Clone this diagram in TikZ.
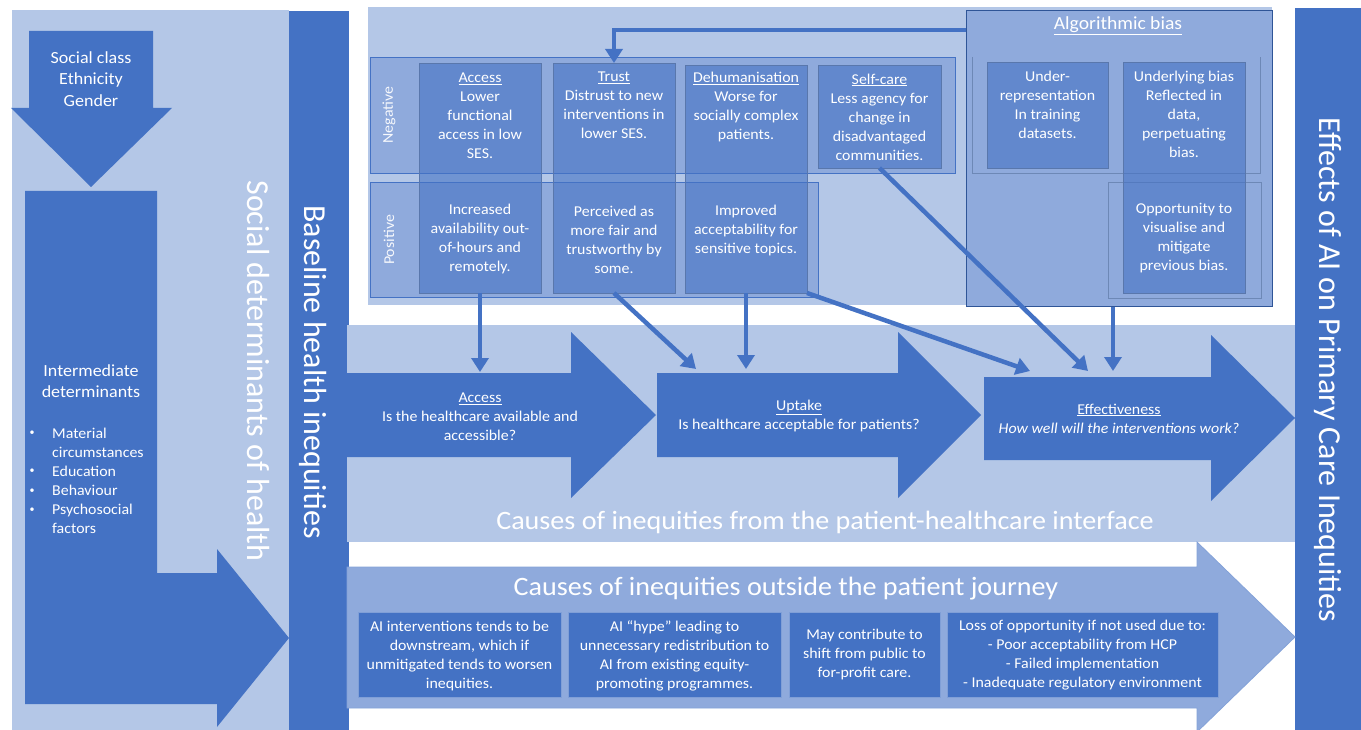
\documentclass[tikz,border=0pt]{standalone}
\usepackage{fontspec}
\setmainfont{Carlito}
\newfontfamily\widefont[FakeStretch=1.06]{Carlito}
\usetikzlibrary{arrows.meta,calc}
\definecolor{lightb}{HTML}{B4C7E7}
\definecolor{medb}{HTML}{8FAADC}
\definecolor{darkb}{HTML}{4472C4}
\definecolor{edgeb}{HTML}{2F5597}
\newcommand{\rectnode}[6]{\node[#2, inner sep=0pt, outer sep=0pt, minimum width={(#5)-(#3)}, minimum height={(#6)-(#4)}, anchor=north west] (#1) at (#3,#4) {};}
\tikzset{
  conn/.style={draw=darkb, line width=4.5pt, -{Triangle[length=14pt,width=17pt]}},
  txt/.style={text=white, align=center, inner sep=0pt, font=\widefont\fontsize{15}{19}\selectfont},
  midtxt/.style={text=white, align=center, inner sep=0pt, font=\widefont\fontsize{17}{21.5}\selectfont},
  bigtxt/.style={text=white, inner sep=0pt, font=\fontsize{32}{38}\selectfont},
  captxt/.style={text=white, inner sep=0pt, font=\widefont\fontsize{26.5}{30}\selectfont},
  panel/.style={fill=lightb, draw=none},
  bar/.style={fill=darkb, draw=none},
  band/.style={fill=medb, draw=darkb, line width=0.8pt},
  bandline/.style={draw=edgeb!70, line width=0.8pt},
  card/.style={fill=darkb, fill opacity=0.6, draw=edgeb!80, line width=0.8pt},
  algobox/.style={fill=medb, draw=edgeb, line width=1pt},
  lowcard/.style={fill=darkb, draw=medb!80!darkb, line width=0.8pt},
}
\begin{document}
\begin{tikzpicture}[x=1pt,y=-1pt]
\useasboundingbox (0,0) rectangle (1361,730);
\fill[white] (0,0) rectangle (1361,730);

% left column
\rectnode{leftpanel}{panel}{12}{10}{289}{730}
\rectnode{basebar}{bar}{289}{11}{349}{730}
\rectnode{effbar}{bar}{1295}{8}{1361}{730}

\fill[darkb] (29,31) -- (153,31) -- (153,108) -- (172,108) -- (91,187) -- (11,108) -- (29,108) -- cycle;
\fill[darkb] (25,191) -- (157,191) -- (157,573) -- (217,573) -- (217,549) -- (289,638) -- (217,727) -- (217,704) -- (25,704) -- cycle;

% top panel
\rectnode{toppanel}{panel}{368}{7}{1272}{305}
\rectnode{negband}{band}{370}{57}{955}{173}
\rectnode{posband}{band}{370}{182}{818}{297}
\rectnode{algo}{algobox}{966}{11}{1272}{307}
\coordinate (an1) at (972,57);
\coordinate (an2) at (1260,173);
\draw[bandline] (an1) |- (an2) -- (an2 |- an1);
\rectnode{algopos}{bandline}{1108}{182}{1261}{298}

\rectnode{access}{card}{419}{63}{541}{293}
\rectnode{trust}{card}{553}{63}{675}{293}
\rectnode{dehum}{card}{685}{65}{807}{293}
\rectnode{selfcare}{card}{818}{65}{941}{168}
\rectnode{underrep}{card}{987}{62}{1108}{168}
\rectnode{ubias}{card}{1123}{62}{1245}{293}

% middle panel
\rectnode{midpanel}{panel}{347}{325}{1295}{542}
\fill[darkb] (347,373) -- (571,373) -- (571,332) -- (656,415) -- (571,498) -- (571,457) -- (347,457) -- cycle;
\fill[darkb] (657,373) -- (898,373) -- (898,332) -- (981,415) -- (898,498) -- (898,457) -- (657,457) -- cycle;
\fill[darkb] (984,377) -- (1211,377) -- (1211,335) -- (1295,418) -- (1211,501) -- (1211,460) -- (984,460) -- cycle;
\coordinate (accT) at (480,372);
\coordinate (uptT1) at (696,369);
\coordinate (uptT2) at (746,369);
\coordinate (effT1) at (1030,371);
\coordinate (effT2) at (1088,371);
\coordinate (effT3) at (1113,371);
\coordinate (algoS) at (1113,307);
\coordinate (trustsrc) at (966,30);

% bottom arrow
\fill[medb, draw=medb!85!darkb, line width=0.8pt] (347,567) -- (1197,567) -- (1197,542) -- (1295,637) -- (1197,732) -- (1197,708) -- (347,708) -- cycle;
\rectnode{low1}{lowcard}{358}{612}{561}{697}
\rectnode{low2}{lowcard}{568}{612}{781}{697}
\rectnode{low3}{lowcard}{789}{612}{940}{697}
\rectnode{low4}{lowcard}{947}{612}{1218}{697}

% connectors
\draw[conn, line width=4pt] (trustsrc) -| (trust.north);
\draw[conn] (access.south) -- (accT);
\draw[conn] (trust.south) -- (uptT1);
\draw[conn] (dehum.south) -- (uptT2);
\draw[conn] (dehum.south east) -- (effT1);
\draw[conn] (selfcare.south) -- (effT2);
\draw[conn] (algoS) -- (effT3);

% texts left
\node[midtxt] (t-sc) at (91,79) {Social class\\Ethnicity\\Gender};
\node[midtxt] (t-int) at (91,381) {Intermediate\\determinants};
\node[txt, align=left, anchor=west] (t-list) at (52,481) {Material\\circumstances\\Education\\Behaviour\\Psychosocial\\factors};
\foreach \yy [count=\i] in {433,471,491,510} \node[txt, font=\fontsize{10}{12}\selectfont] (bul\i) at (32,\yy) {•};
\node[bigtxt, rotate=-90] (t-sdh) at (258,371) {Social determinants of health};
\node[bigtxt, rotate=-90] (t-base) at (313,372) {Baseline health inequities};
\node[bigtxt, rotate=-90] (t-eff) at (1328,370) {Effects of AI on Primary Care Inequities};

% top texts
\node[txt, rotate=90, text=white!92!medb] (t-neg) at (389,115) {Negative};
\node[txt, rotate=90, text=white!92!medb] (t-pos) at (389,240) {Positive};
\node[txt] (t-acc1) at (480,116) {\underline{Access}\\Lower\\functional\\access in low\\SES.};
\node[txt] (t-acc2) at (480,239.5) {Increased\\availability out-\\of-hours and\\remotely.};
\node[txt] (t-tr1) at (614,105.5) {\underline{Trust}\\Distrust to new\\interventions in\\lower SES.};
\node[txt] (t-tr2) at (614,239.5) {Perceived as\\more fair and\\trustworthy by\\some.};
\node[txt] (t-de1) at (746,107.5) {\underline{Dehumanisation}\\Worse for\\socially complex\\patients.};
\node[txt] (t-de2) at (746,231) {Improved\\acceptability for\\sensitive topics.};
\node[txt] (t-sc1) at (879.5,117) {\underline{Self-care}\\Less agency for\\change in\\disadvantaged\\communities.};
\node[midtxt, font=\widefont\fontsize{18.5}{22}\selectfont] (t-algo) at (1118,26) {\underline{Algorithmic bias}};
\node[txt] (t-ur) at (1047.5,105) {Under-\\representation\\In training\\datasets.};
\node[txt] (t-ub) at (1184,114.5) {Underlying bias\\Reflected in\\data,\\perpetuating\\bias.};
\node[txt] (t-op) at (1184,238.5) {Opportunity to\\visualise and\\mitigate\\previous bias.};

% middle texts
\node[txt] (t-ma) at (480,416.5) {\underline{Access}\\Is the healthcare available and\\accessible?};
\node[txt] (t-mu) at (799,415.5) {\underline{Uptake}\\Is healthcare acceptable for patients?};
\node[txt] (t-me) at (1119,418.5) {\underline{Effectiveness}\\\textit{How well will the interventions work?}};
\node[captxt] (t-cause1) at (825,522) {Causes of inequities from the patient-healthcare interface};
\node[captxt] (t-cause2) at (786,589) {Causes of inequities outside the patient journey};

% bottom texts
\node[txt] (t-l1) at (459.5,655.5) {AI interventions tends to be\\downstream, which if\\unmitigated tends to worsen\\inequities.};
\node[txt] (t-l2) at (674.5,655.5) {AI “hype” leading to\\unnecessary redistribution to\\AI from existing equity-\\promoting programmes.};
\node[txt] (t-l3) at (864.5,654.5) {May contribute to\\shift from public to\\for-profit care.};
\node[txt] (t-l4) at (1082.5,655.5) {Loss of opportunity if not used due to:\\- Poor acceptability from HCP\\- Failed implementation\\- Inadequate regulatory environment};
\end{tikzpicture}
\end{document}
